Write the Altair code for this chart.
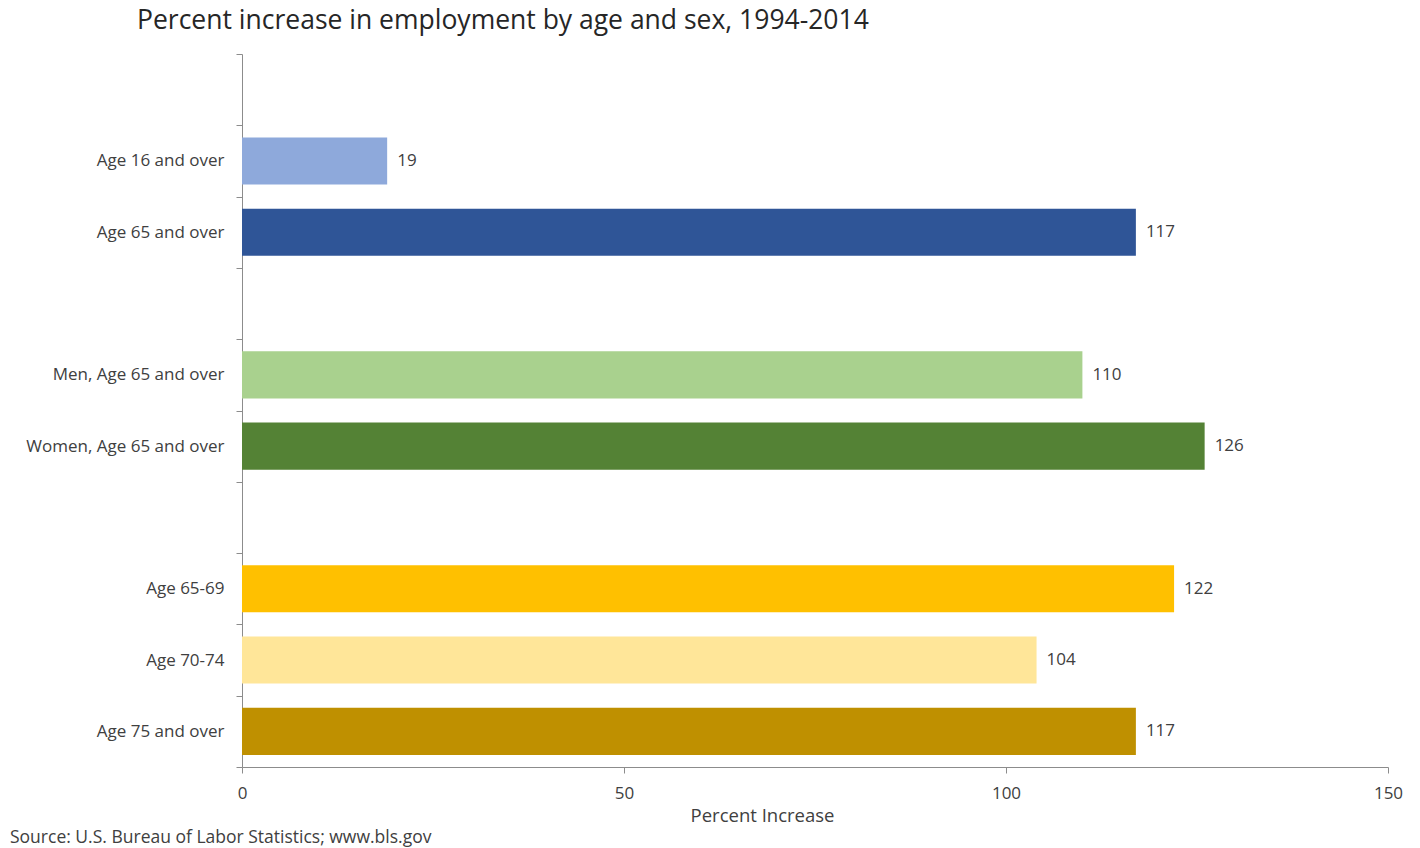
import altair as alt
import pandas as pd

# Category slots (top to bottom), including blank separator slots
slots = ["gap0", "Age 16 and over", "Age 65 and over", "gap1",
         "Men, Age 65 and over", "Women, Age 65 and over", "gap2",
         "Age 65-69", "Age 70-74", "Age 75 and over"]

categories = ["Age 16 and over", "Age 65 and over",
              "Men, Age 65 and over", "Women, Age 65 and over",
              "Age 65-69", "Age 70-74", "Age 75 and over"]
values = [19, 117, 110, 126, 122, 104, 117]
colors = ["#8EA9DB", "#2F5597", "#A9D18E", "#548235",
          "#FFC000", "#FFE699", "#BF9000"]

x_ticks = [0, 50, 100, 150]
title_text = "Percent increase in employment by age and sex, 1994-2014"
x_title = "Percent Increase"
source_text = "Source: U.S. Bureau of Labor Statistics; www.bls.gov"

df = pd.DataFrame({"category": categories, "value": values, "color": colors})

FONT = "Open Sans"
W, H = 1146, 713

y_enc = alt.Y(
    "category:N",
    scale=alt.Scale(domain=slots, paddingInner=0, paddingOuter=0),
    axis=alt.Axis(
        title=None,
        labelExpr="indexof(datum.label, 'gap') == 0 ? '' : datum.label",
        tickBand="extent",
        tickSize=6,
        tickColor="#8c8c8c",
        domainColor="#8c8c8c",
        labelPadding=12,
        labelFontSize=17,
        labelFont=FONT,
        labelColor="#404040",
        labelLimit=0,
        grid=False,
    ),
)

x_enc = alt.X(
    "value:Q",
    scale=alt.Scale(domain=[0, 150], nice=False),
    axis=alt.Axis(
        values=x_ticks,
        title=x_title,
        titleFont=FONT,
        titleFontSize=18.5,
        titleFontWeight="normal",
        titleColor="#404040",
        titleX=520,
        titleY=48,
        titleAlign="center",
        titleBaseline="middle",
        labelFontSize=17,
        labelFont=FONT,
        labelColor="#404040",
        labelPadding=12,
        labelFlush=False,
        tickSize=6,
        tickColor="#8c8c8c",
        domainColor="#8c8c8c",
        grid=False,
    ),
)

bars = alt.Chart(df).mark_bar(height={"band": 0.66}).encode(
    x=x_enc,
    y=y_enc,
    color=alt.Color("color:N", scale=None),
)

labels = alt.Chart(df).mark_text(
    align="left", baseline="middle", dx=10, fontSize=17, font=FONT, color="#404040"
).encode(
    x="value:Q",
    y=alt.Y("category:N"),
    text="value:Q",
)

source = alt.Chart(pd.DataFrame({"t": [source_text]})).mark_text(
    align="left", baseline="middle", fontSize=17.5, font=FONT, color="#404040"
).encode(
    x=alt.value(-232),
    y=alt.value(784),
    text="t:N",
)

title = alt.Chart(pd.DataFrame({"t": [title_text]})).mark_text(
    align="left", baseline="alphabetic", fontSize=26.5, font=FONT, color="#262626"
).encode(
    x=alt.value(-105),
    y=alt.value(-25),
    text="t:N",
)

chart = alt.layer(bars, labels, source, title).properties(
    width=W,
    height=H,
    autosize=alt.AutoSizeParams(type="none"),
    padding={"left": 242, "top": 54, "right": 32, "bottom": 81},
).configure_view(stroke=None)

chart.save("out.html", embed_options={"renderer": "svg", "actions": False})
